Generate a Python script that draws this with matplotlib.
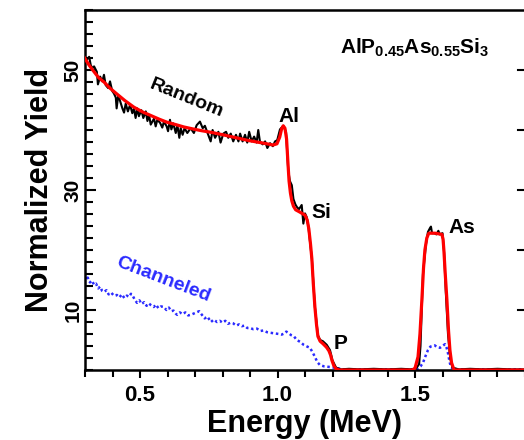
import matplotlib
matplotlib.use("Agg")
import matplotlib.pyplot as plt
from matplotlib.ticker import MultipleLocator, FixedLocator

plt.rcParams['font.family'] = ['Liberation Sans', 'DejaVu Sans']
plt.rcParams['mathtext.fontset'] = 'custom'
plt.rcParams['mathtext.rm'] = 'Liberation Sans'
plt.rcParams['mathtext.bf'] = 'Liberation Sans:bold'

# Random spectrum (measured)
random_energy = [
    0.296, 0.306, 0.315, 0.321, 0.327, 0.333, 0.343, 0.347, 0.355, 0.363, 0.369,
    0.375, 0.384, 0.391, 0.399, 0.405, 0.412, 0.415, 0.421, 0.430, 0.436, 0.442,
    0.448, 0.456, 0.464, 0.472, 0.478, 0.484, 0.490, 0.496, 0.505, 0.512, 0.521,
    0.527, 0.533, 0.539, 0.551, 0.557, 0.563, 0.573, 0.581, 0.587, 0.597, 0.602,
    0.609, 0.614, 0.621, 0.630, 0.636, 0.643, 0.648, 0.655, 0.662, 0.672, 0.684,
    0.696, 0.706, 0.718, 0.728, 0.736, 0.748, 0.757, 0.764, 0.773, 0.785, 0.793,
    0.803, 0.813, 0.821, 0.830, 0.839, 0.849, 0.858, 0.864, 0.873, 0.882, 0.890,
    0.897, 0.906, 0.915, 0.924, 0.930, 0.936, 0.946, 0.955, 0.963, 0.973, 0.983,
    0.991, 0.999, 1.009, 1.021, 1.031, 1.039, 1.045, 1.052, 1.058, 1.065, 1.070,
    1.078, 1.088, 1.094, 1.100, 1.106, 1.112, 1.125, 1.136, 1.147, 1.155, 1.165,
    1.179, 1.191, 1.200, 1.213, 1.230, 1.260, 1.300, 1.350, 1.400, 1.450, 1.490,
    1.505, 1.515, 1.520, 1.529, 1.540, 1.547, 1.555, 1.558, 1.562, 1.570, 1.578,
    1.585, 1.590, 1.600, 1.606, 1.612, 1.620, 1.628, 1.636, 1.660, 1.700, 1.750,
    1.800, 1.850, 1.900,
]
random_yield = [
    51.9, 51.7, 52.2, 50.8, 50.3, 50.6, 49.7, 47.6, 48.9, 48.1, 49.2,
    47.5, 47.0, 48.1, 46.5, 46.1, 45.4, 43.6, 45.8, 44.5, 43.6, 42.9,
    44.4, 43.1, 44.2, 42.8, 43.6, 42.0, 43.6, 42.3, 43.3, 42.0, 43.1,
    41.5, 42.5, 40.9, 41.9, 40.6, 41.7, 41.2, 40.4, 41.4, 40.6, 39.8,
    41.7, 40.1, 41.1, 39.5, 40.8, 38.7, 40.3, 39.2, 40.3, 39.5, 40.3,
    39.5, 40.8, 41.4, 40.3, 40.7, 39.2, 38.1, 40.0, 38.7, 39.7, 37.9,
    39.4, 39.7, 38.7, 39.4, 38.1, 39.2, 38.1, 39.4, 38.1, 39.2, 37.9,
    39.7, 38.1, 38.9, 37.9, 40.0, 38.1, 37.6, 38.1, 37.0, 37.8, 37.3,
    38.1, 38.3, 40.1, 40.7, 39.7, 33.3, 31.5, 30.8, 28.5, 27.6, 27.2,
    26.8, 27.5, 24.4, 26.1, 25.5, 24.0, 18.5, 10.5, 5.8, 5.0, 4.8,
    4.2, 3.3, 1.6, 0.4, 0.1, 0.2, 0.1, 0.2, 0.1, 0.2, 0.1,
    0.3, 1.0, 4.0, 16.0, 21.0, 23.0, 23.7, 23.9, 22.8, 22.8, 22.6,
    23.2, 22.6, 22.8, 19.5, 13.0, 6.0, 2.0, 0.4, 0.1, 0.2, 0.1,
    0.2, 0.1, 0.1,
]

# Simulated random spectrum
sim_energy = [
    0.296, 0.315, 0.333, 0.350, 0.369, 0.390, 0.416, 0.445, 0.478, 0.510, 0.540,
    0.570, 0.598, 0.630, 0.660, 0.690, 0.722, 0.760, 0.802, 0.850, 0.900, 0.950,
    0.984, 0.998, 1.008, 1.015, 1.021, 1.027, 1.033, 1.038, 1.042, 1.047, 1.052,
    1.058, 1.066, 1.082, 1.100, 1.108, 1.114, 1.120, 1.125, 1.130, 1.136, 1.142,
    1.147, 1.155, 1.165, 1.178, 1.187, 1.193, 1.198, 1.205, 1.213, 1.225, 1.490,
    1.500, 1.511, 1.518, 1.525, 1.531, 1.536, 1.543, 1.550, 1.573, 1.598, 1.602,
    1.605, 1.610, 1.616, 1.622, 1.627, 1.633, 1.642, 1.900,
]
sim_yield = [
    52.2, 50.8, 49.7, 48.7, 48.0, 47.0, 46.0, 44.9, 43.8, 43.0, 42.4,
    41.8, 41.3, 40.9, 40.5, 40.2, 39.9, 39.6, 39.2, 38.7, 38.2, 37.8,
    37.5, 37.7, 38.8, 40.2, 40.7, 40.3, 38.5, 34.5, 31.5, 29.5, 28.2,
    27.3, 26.7, 26.3, 25.8, 25.0, 23.5, 21.0, 18.5, 14.5, 10.5, 7.5,
    5.6, 4.8, 4.4, 3.8, 3.2, 2.5, 1.6, 0.7, 0.2, 0.0, 0.0,
    0.3, 2.2, 6.0, 11.7, 17.0, 20.0, 22.0, 22.8, 22.8, 22.6, 21.8,
    20.0, 16.0, 11.7, 6.5, 3.3, 1.2, 0.0, 0.0,
]

# Channeled spectrum
chan_energy = [
    0.300, 0.304, 0.310, 0.318, 0.325, 0.333, 0.340, 0.348, 0.355, 0.362, 0.369,
    0.378, 0.386, 0.395, 0.405, 0.416, 0.425, 0.434, 0.443, 0.452, 0.460, 0.467,
    0.471, 0.480, 0.489, 0.498, 0.506, 0.515, 0.524, 0.532, 0.540, 0.550, 0.558,
    0.567, 0.576, 0.587, 0.596, 0.605, 0.614, 0.622, 0.630, 0.635, 0.645, 0.655,
    0.665, 0.675, 0.685, 0.695, 0.705, 0.715, 0.725, 0.735, 0.745, 0.758, 0.768,
    0.780, 0.790, 0.800, 0.810, 0.820, 0.830, 0.838, 0.850, 0.860, 0.870, 0.880,
    0.890, 0.900, 0.912, 0.925, 0.938, 0.950, 0.962, 0.975, 0.990, 1.005, 1.015,
    1.025, 1.032, 1.038, 1.050, 1.060, 1.070, 1.082, 1.095, 1.108, 1.118, 1.127,
    1.136, 1.145, 1.155, 1.170, 1.191, 1.216, 1.240, 1.300, 1.400, 1.500, 1.507,
    1.520, 1.529, 1.538, 1.547, 1.556, 1.565, 1.572, 1.580, 1.591, 1.600, 1.609,
    1.615, 1.620, 1.626, 1.631, 1.640, 1.700, 1.800, 1.900,
]
chan_yield = [
    15.5, 15.0, 15.4, 14.6, 14.9, 14.2, 14.4, 13.6, 13.9, 13.2, 13.0,
    13.3, 12.6, 12.9, 12.4, 12.5, 12.1, 12.6, 12.0, 12.4, 12.2, 12.7,
    12.6, 11.8, 11.2, 11.6, 11.0, 11.3, 10.7, 11.1, 10.8, 10.5, 10.9,
    10.3, 10.6, 10.5, 10.0, 10.4, 9.8, 9.9, 9.4, 9.2, 9.6, 9.3,
    9.6, 9.1, 9.2, 9.4, 9.6, 9.8, 9.2, 8.6, 8.9, 8.0, 8.4,
    8.0, 8.2, 7.9, 8.2, 7.7, 7.9, 7.8, 7.4, 7.6, 7.3, 7.4,
    7.0, 7.0, 6.8, 6.9, 6.5, 6.6, 6.3, 6.2, 6.1, 6.0, 5.9,
    6.1, 6.4, 6.2, 5.8, 5.6, 5.0, 4.7, 4.2, 3.9, 3.7, 3.0,
    2.2, 1.3, 0.8, 0.6, 0.5, 0.3, 0.1, 0.1, 0.1, 0.1, 0.1,
    0.6, 1.2, 2.3, 3.3, 3.9, 4.0, 4.1, 3.8, 3.7, 4.0, 4.3,
    3.7, 2.8, 1.3, 0.5, 0.1, 0.1, 0.1, 0.1,
]

x_ticks = [0.5, 1.0, 1.5]
y_ticks = [10, 30, 50]

fig = plt.figure(figsize=(5.24, 4.40), dpi=100)
ax = fig.add_axes([85 / 524, 70 / 440, 440 / 524, 360 / 440])

ax.plot(chan_energy, chan_yield, color='#2a2aff', linestyle=(0, (1, 1.1)),
        linewidth=1.8, zorder=2)
ax.plot(random_energy, random_yield, color='black', linewidth=1.5, zorder=3)
ax.plot(sim_energy, sim_yield, color='#ff0000', linewidth=2.3, zorder=4)

ax.set_xlim(0.3, 1.9)
ax.set_ylim(0, 60)

ax.xaxis.set_major_locator(FixedLocator(x_ticks))
ax.xaxis.set_minor_locator(MultipleLocator(0.1))
ax.yaxis.set_major_locator(FixedLocator(y_ticks))
ax.yaxis.set_minor_locator(MultipleLocator(2))

ax.tick_params(axis='x', which='major', direction='out', length=6, width=1.5,
               labelsize=16, pad=5)
ax.tick_params(axis='x', which='minor', direction='out', length=5, width=1.5)
ax.tick_params(axis='y', which='major', direction='in', length=8, width=1.5,
               labelsize=15, pad=2)
ax.tick_params(axis='y', which='minor', direction='in', length=6, width=1.5)
for lbl in ax.get_xticklabels():
    lbl.set_fontweight('bold')
for lbl in ax.get_yticklabels():
    lbl.set_fontweight('bold')
    lbl.set_rotation(90)
    lbl.set_va('center')

# inward ticks along the right edge
for yv in [10, 20, 30, 40, 50]:
    ax.plot([1.875, 1.898], [yv, yv], color='black', linewidth=1.5,
            clip_on=False, zorder=5)

for side in ['left', 'bottom', 'top', 'right']:
    ax.spines[side].set_linewidth(1.8)

ax.set_xlabel('Energy (MeV)', fontsize=22, fontweight='bold', labelpad=2)
ax.set_ylabel('Normalized Yield', fontsize=22, fontweight='bold', labelpad=6)

ax.text(0.67, 45.3, 'Random', fontsize=14, fontweight='bold', rotation=-22,
        ha='center', va='center')
ax.text(0.585, 15.0, 'Channeled', fontsize=14, fontweight='bold', rotation=-21,
        ha='center', va='center', color='#2a2aff')
ax.text(1.04, 42.2, 'Al', fontsize=15, fontweight='bold', ha='center', va='center')
ax.text(1.16, 26.3, 'Si', fontsize=15, fontweight='bold', ha='center', va='center')
ax.text(1.23, 4.5, 'P', fontsize=15, fontweight='bold', ha='center', va='center')
ax.text(1.67, 23.7, 'As', fontsize=15, fontweight='bold', ha='center', va='center')
ax.text(1.5, 53.7, r'$\mathbf{AlP_{0.45}As_{0.55}Si_{3}}$', fontsize=15,
        ha='center', va='center')

fig.savefig('out.png', dpi=100)
